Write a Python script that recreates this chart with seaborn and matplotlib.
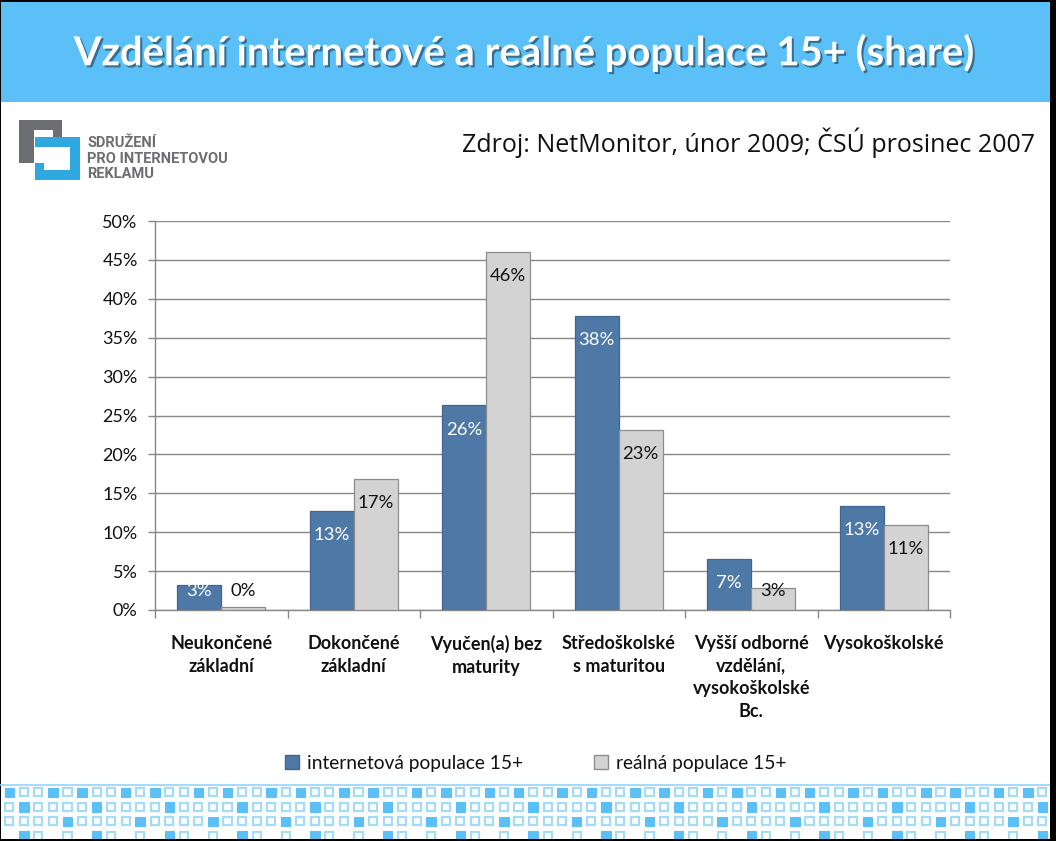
import matplotlib
matplotlib.use("Agg")
import matplotlib.pyplot as plt
import matplotlib.patheffects as pe
from matplotlib.patches import Rectangle
from matplotlib.ticker import FixedLocator, FuncFormatter
import seaborn as sns
import pandas as pd
import numpy as np

# ---------------- data ----------------
categories = ["Neukončené\nzákladní", "Dokončené\nzákladní", "Vyučen(a) bez\nmaturity",
              "Středoškolské\ns maturitou", "Vyšší odborné\nvzdělání,\nvysokoškolské\nBc.",
              "Vysokoškolské"]
series_names = ["internetová populace 15+", "reálná populace 15+"]
internet_vals = [3.2, 12.7, 26.3, 37.8, 6.6, 13.4]
real_vals = [0.4, 16.8, 46.0, 23.1, 2.8, 10.9]
yticks = [0, 5, 10, 15, 20, 25, 30, 35, 40, 45, 50]

title = "Vzdělání internetové a reálné populace 15+ (share)"
source = "Zdroj: NetMonitor, únor 2009; ČSÚ prosinec 2007"
logo_lines = ["SDRUŽENÍ", "PRO INTERNETOVOU", "REKLAMU"]

BLUE = "#4E79A7"
BLUE_EDGE = "#3F6590"
GRAY = "#D3D3D3"
GRAY_EDGE = "#8C8C8C"
GRID = "#878787"
SKY = "#5BC0F8"
SKY_LIGHT = "#A3DBF9"

sns.set_theme(style="white")
plt.rcParams["font.family"] = ["Lato", "DejaVu Sans"]

W, H = 1056, 841
fig = plt.figure(figsize=(W / 100, H / 100), dpi=100, facecolor="black")

# ---------------- decoration layer (pixel coords) ----------------
deco = fig.add_axes([0, 0, 1, 1], zorder=0)
deco.set_xlim(0, W)
deco.set_ylim(H, 0)
deco.axis("off")
deco.add_patch(Rectangle((1, 2), 1049, 837, facecolor="white", edgecolor="none"))
deco.add_patch(Rectangle((1, 2), 1049, 100, facecolor=SKY, edgecolor="none"))

deco.text(525, 53, title, color="white", fontsize=28.8, fontweight="bold",
          ha="center", va="center",
          path_effects=[pe.SimplePatchShadow(offset=(1.5, -1.5), shadow_rgbFace="#1a3a50", alpha=0.6),
                        pe.Normal()])
deco.text(1035, 143, source, color="#111111", fontsize=18, ha="right", va="center",
          family=["Open Sans", "DejaVu Sans"])

# logo
LG = "#6D6E71"
LB = "#2FA8E0"
for (x, y, w, h) in [(19, 120, 15, 43), (19, 120, 43, 10), (53, 120, 9, 17)]:
    deco.add_patch(Rectangle((x, y), w, h, facecolor=LG, edgecolor="none"))
for (x, y, w, h) in [(35, 137, 45, 10), (70, 137, 10, 43), (35, 170, 45, 10), (35, 163, 9, 17)]:
    deco.add_patch(Rectangle((x, y), w, h, facecolor=LB, edgecolor="none"))
for i, line in enumerate(logo_lines):
    deco.text(87, 143 + i * 15.5, line, color=LG, fontsize=10.5, fontweight="bold",
              ha="left", va="center", family=["Roboto", "DejaVu Sans"])

# bottom square pattern
deco.plot([1, 1050], [784.5, 784.5], color=SKY_LIGHT, lw=1.5)
for r in range(4):
    for i in range(72):
        m = i % 5
        if r == 0:
            present, filled = True, m in (0, 3)
        elif r == 1:
            present, filled = True, m == 1
        elif r == 2:
            present, filled = True, m == 4
        else:
            present, filled = m in (1, 2, 4), m == 1
        if not present:
            continue
        x = 4.5 + i * 14.55
        y = 787.5 + r * 14.5
        if filled:
            deco.add_patch(Rectangle((x, y), 9.5, 9.5, facecolor=SKY, edgecolor=SKY, lw=0.8))
        else:
            deco.add_patch(Rectangle((x + 0.7, y + 0.7), 8.1, 8.1, facecolor="white",
                                     edgecolor=SKY_LIGHT, lw=1.6))
# keep borders black on top
deco.add_patch(Rectangle((1050, 0), 6, H, facecolor="black", edgecolor="none", zorder=5))
deco.add_patch(Rectangle((0, 839), W, 2, facecolor="black", edgecolor="none", zorder=5))

# ---------------- chart ----------------
df = pd.DataFrame({
    "cat": categories * 2,
    "val": internet_vals + real_vals,
    "series": [series_names[0]] * len(categories) + [series_names[1]] * len(categories),
})

ax = fig.add_axes([155 / W, 1 - 610 / H, 795 / W, 389 / H], zorder=1)
ax.set_facecolor("white")
sns.barplot(data=df, x="cat", y="val", hue="series", hue_order=series_names,
            palette=[BLUE, GRAY], width=0.664, saturation=1, ax=ax, zorder=3)

edge_cols = [BLUE_EDGE, GRAY_EDGE]
txt_cols = ["white", "#111111"]
for k, cont in enumerate(ax.containers):
    for bar in cont:
        bar.set_edgecolor(edge_cols[k])
        bar.set_linewidth(0.9)
        h = bar.get_height()
        ypos = max(h - 3.1, 2.5)
        ax.text(bar.get_x() + bar.get_width() / 2, ypos, f"{h:.0f}%",
                ha="center", va="center", fontsize=13.3, color=txt_cols[k], zorder=4)

ax.set_ylim(0, 50)
ax.set_xlim(-0.5, len(categories) - 0.5)
ax.yaxis.set_major_locator(FixedLocator(yticks))
ax.yaxis.set_major_formatter(FuncFormatter(lambda v, p: f"{v:.0f}%"))
ax.grid(axis="y", color=GRID, lw=1, zorder=0)
ax.set_axisbelow(True)
ax.set_xlabel("")
ax.set_ylabel("")
for s in ["top", "right"]:
    ax.spines[s].set_visible(False)
for s in ["left", "bottom"]:
    ax.spines[s].set_color(GRID)
    ax.spines[s].set_linewidth(1)

ax.tick_params(axis="y", which="major", left=True, length=5, width=1, color=GRID,
               pad=7.5, labelsize=13, labelcolor="#111111")
ax.set_xticks(range(len(categories)))
ax.set_xticklabels(categories, fontsize=13, fontweight="bold", color="#111111",
                   linespacing=1.4, va="top")
ax.tick_params(axis="x", which="major", length=0, pad=18)
ax.set_xticks(np.arange(-0.5, len(categories), 1.0), minor=True)
ax.tick_params(axis="x", which="minor", bottom=True, length=6, width=1, color=GRID)

handles, labels = ax.get_legend_handles_labels()
if ax.get_legend() is not None:
    ax.get_legend().remove()
for hdl, ec in zip(handles, edge_cols):
    hdl.set_edgecolor(ec)
fig.legend(handles, labels, loc="center", ncol=2, frameon=False,
           bbox_to_anchor=(536 / W, 1 - 763 / H), fontsize=13.8,
           handlelength=0.7, handleheight=0.7, handletextpad=0.45,
           columnspacing=3.7, labelcolor="#111111")

fig.savefig("out.png", dpi=100, facecolor=fig.get_facecolor())
